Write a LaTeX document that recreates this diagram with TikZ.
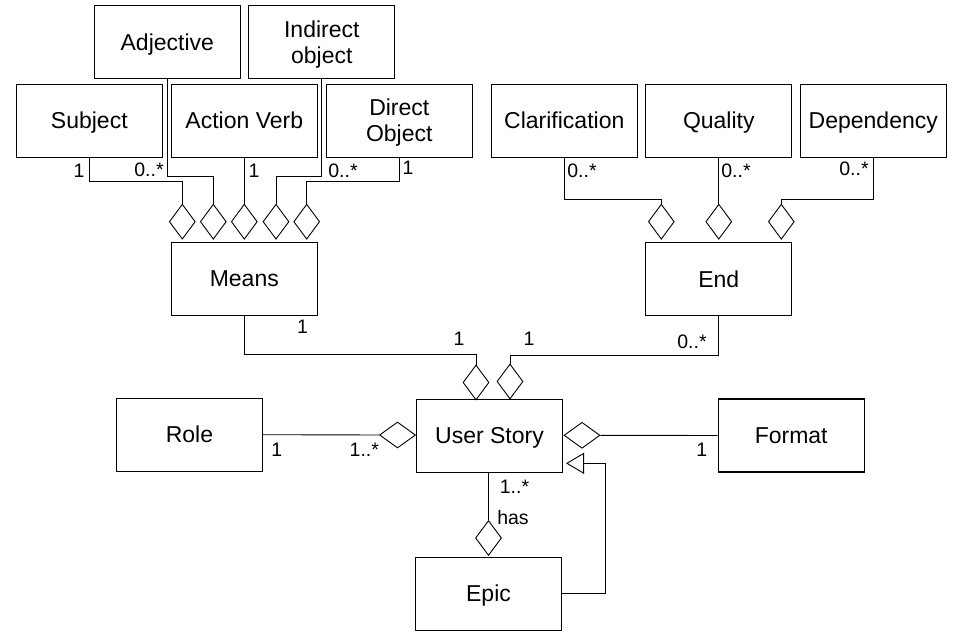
\documentclass[tikz,border=0pt]{standalone}
\usepackage{fontspec}
\setmainfont{Liberation Sans}
\usetikzlibrary{shapes.geometric,arrows.meta}
\begin{document}
\begin{tikzpicture}[x=1pt,y=-1pt,
 box/.style={draw,line width=1.1pt,minimum width=146pt,minimum height=73pt,inner sep=0pt,align=center,font=\fontsize{23}{26}\selectfont,text height=16.5pt,text depth=0pt},
 box2/.style={box,text height=42.5pt,text depth=0pt},
 vdia/.style={draw,shape=diamond,minimum width=26pt,minimum height=35pt,inner sep=0pt,line width=0.9pt},
 hdia/.style={draw,shape=diamond,minimum width=36pt,minimum height=26pt,inner sep=0pt,line width=0.9pt},
 conn/.style={line width=0.9pt},
 lbl/.style={font=\fontsize{19.5}{21}\selectfont,inner sep=0pt}]
\useasboundingbox (0,0) rectangle (954,636);
% boxes
\node[box] (adj) at (167.3,41.8) {Adjective};
\node[box2] (ind) at (321.8,41.8) {Indirect\\object};
\node[box] (sub) at (89.3,120.7) {Subject};
\node[box] (av) at (244.3,120.7) {Action Verb};
\node[box2] (dob) at (399.3,120.7) {Direct\\Object};
\node[box] (means) at (244.3,278.7) {Means};
\node[box] (clar) at (564.3,120.7) {Clarification};
\node[box] (qual) at (718.8,120.7) {Quality};
\node[box] (dep) at (873.3,120.7) {Dependency};
\node[box] (end) at (718.8,278.8) {End};
\node[box] (role) at (189.5,434.7) {Role};
\node[box] (us) at (489.5,435.7) {User Story};
\node[box] (fmt) at (791.2,435.5) {Format};
\node[box] (epic) at (488.5,593.7) {Epic};
% diamonds
\node[vdia] (m1) at (182.3,221.7) {};
\node[vdia] (m2) at (213.3,221.7) {};
\node[vdia] (m3) at (244.3,221.7) {};
\node[vdia] (m4) at (276,221.7) {};
\node[vdia] (m5) at (306.7,221.7) {};
\node[vdia] (e1) at (661.3,221.7) {};
\node[vdia] (e2) at (718.8,221.7) {};
\node[vdia] (e3) at (781.3,221.7) {};
\node[vdia] (u1) at (476,382.5) {};
\node[vdia] (u2) at (510,381.5) {};
\node[hdia] (r) at (397.5,435) {};
\node[hdia] (f) at (582,435.3) {};
\node[vdia] (ep) at (488.5,538) {};
% connectors
\draw[conn] (sub.south) -- ++(0,23.6) -| (m1.north);
\draw[conn] (adj.south) -- ++(0,97.7) -| (m2.north);
\draw[conn] (av.south) -- (m3.north);
\draw[conn] (ind.south) -- ++(0,97.7) -| (m4.north);
\draw[conn] (dob.south) -- ++(0,23.6) -| (m5.north);
\draw[conn] (means.south) -- ++(0,39) -| (u1.north);
\draw[conn] (end.south) -- ++(0,40) -| (u2.north);
\draw[conn] (clar.south) -- ++(0,42) -| (e1.north);
\draw[conn] (qual.south) -- (e2.north);
\draw[conn] (dep.south) -- ++(0,42) -| (e3.north);
\draw[conn] (role.east) -- (r.west);
\draw[conn] (fmt.west) -- (f.east);
\draw[conn] (ep.north) -- (ep.north |- us.south);
\coordinate (g) at (605,463.3);
\coordinate (gt) at (566,463.3);
\draw[conn,-{Triangle[open,length=18pt,width=21pt]}] (epic.east) -| (g) -- (gt);
% labels
\node[lbl] (a1) at (79,171) {1};
\node[lbl] (a2) at (149,169.5) {0..*};
\node[lbl] (a3) at (254,171) {1};
\node[lbl] (a4) at (343,171) {0..*};
\node[lbl] (a5) at (408,168) {1};
\node[lbl] (b1) at (582,171) {0..*};
\node[lbl] (b2) at (736,171) {0..*};
\node[lbl] (b3) at (854,169) {0..*};
\node[lbl] (c1) at (302.5,326.7) {1};
\node[lbl] (c2) at (459,339) {1};
\node[lbl] (c3) at (529,339) {1};
\node[lbl] (c4) at (692,341.7) {0..*};
\node[lbl] (d1) at (276.7,450) {1};
\node[lbl] (d2) at (364.3,450) {1..*};
\node[lbl] (d3) at (701.7,450) {1};
\node[lbl] (d4) at (514.5,486.7) {1..*};
\node[lbl] (d5) at (513,518) {has};
\end{tikzpicture}
\end{document}
